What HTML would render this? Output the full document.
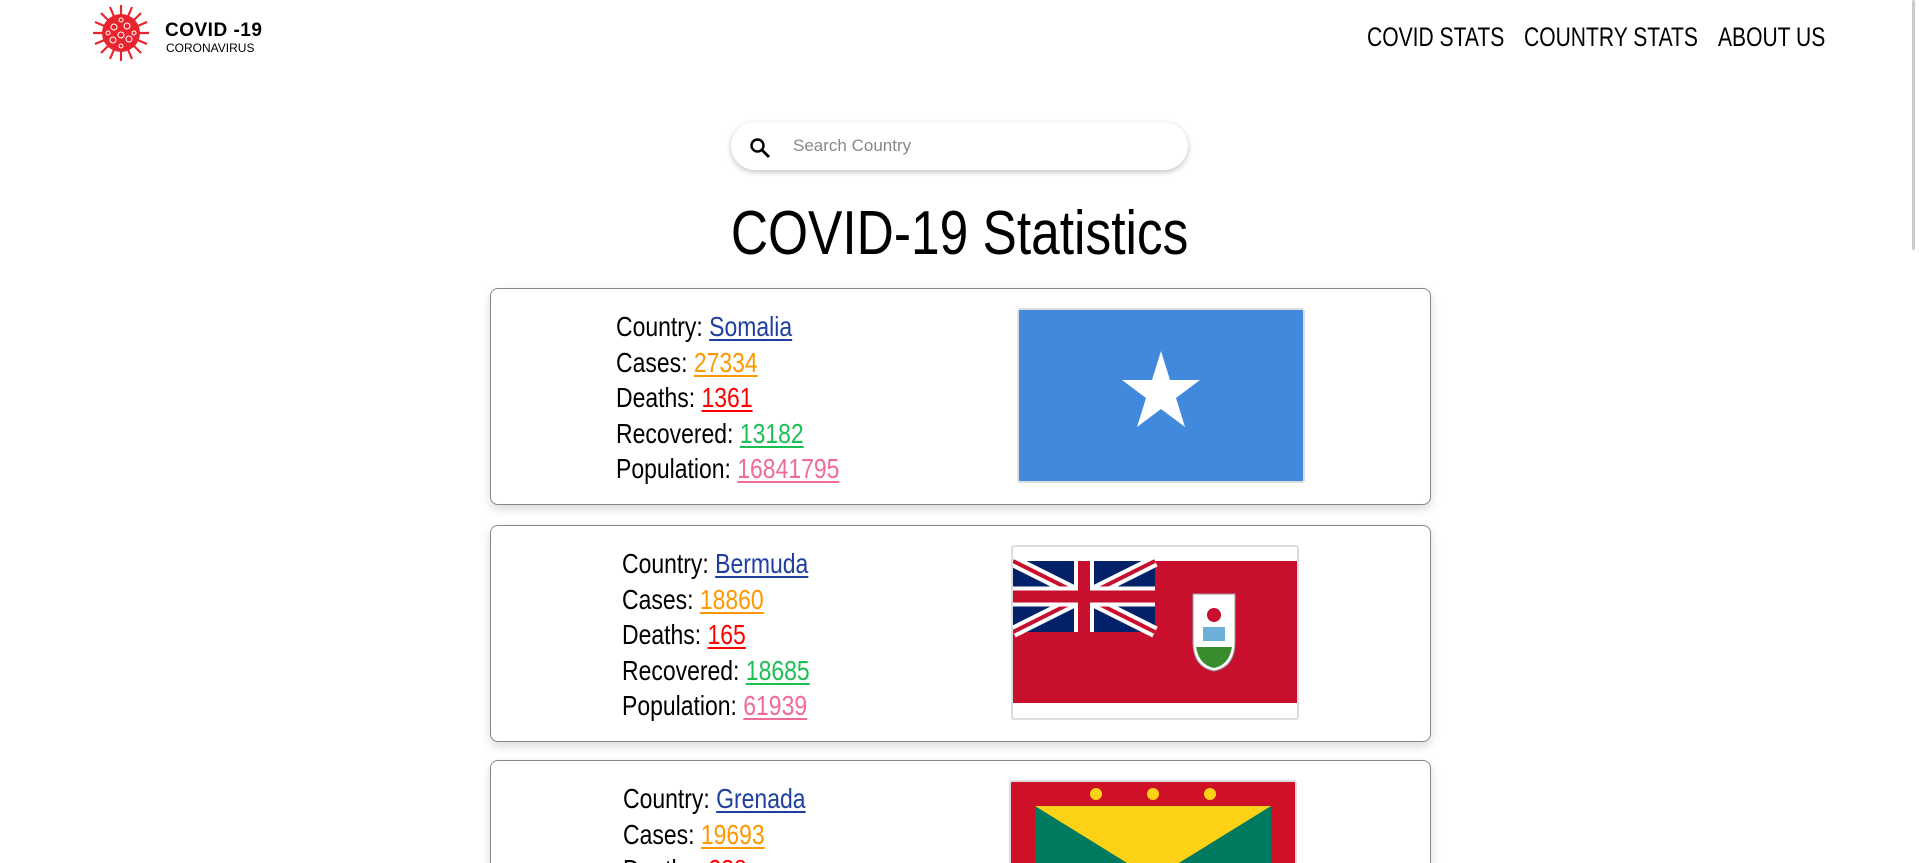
<!DOCTYPE html>
<html style="height:863px;overflow:hidden"><head><meta charset="utf-8"><style>
html,body{margin:0;padding:0}
body{width:1919px;height:863px;overflow:hidden;background:#fff;font-family:"Liberation Sans",sans-serif;position:relative}
#wrap{position:absolute;left:0;top:0;width:1919px;height:863px;overflow:hidden}
.abs{position:absolute}
.nav a{color:#000;text-decoration:none;font-size:27px;position:absolute;top:22px;transform:scaleX(0.78);transform-origin:0 0;white-space:nowrap}
.card{position:absolute;left:490px;width:939px;border:1px solid #888;border-radius:8px;background:#fff;box-shadow:0 4px 10px rgba(0,0,0,.15)}
.info{position:absolute;font-size:28px;line-height:35.5px;color:#000;transform:scaleX(0.82);transform-origin:0 0;white-space:nowrap}
.info a{text-decoration:underline;text-underline-offset:3px}
.flag{position:absolute;width:284px;height:171px;border:2px solid #ddd;border-radius:3px;overflow:hidden}
</style></head><body><div id="wrap">
<div class="abs" style="left:90px;top:2px;width:200px;height:62px">
<svg width="62" height="62" viewBox="-31 -31 62 62">
<g stroke="#e8252e" stroke-width="2.2">
<line x1="0" y1="-28" x2="0" y2="28"/><line x1="-28" y1="0" x2="28" y2="0"/>
<line x1="-20" y1="-20" x2="20" y2="20"/><line x1="-20" y1="20" x2="20" y2="-20"/>
<line x1="-11" y1="-26" x2="11" y2="26"/><line x1="11" y1="-26" x2="-11" y2="26"/>
<line x1="-26" y1="-11" x2="26" y2="11"/><line x1="-26" y1="11" x2="26" y2="-11"/>
</g>
<circle r="19" fill="#e8252e"/>
<g fill="none" stroke="#fff" stroke-width="1"><circle r="3" cx="-7" cy="-6"/><circle r="3" cx="6" cy="-7"/><circle r="3" cx="0" cy="2"/><circle r="3" cx="-8" cy="7"/><circle r="3" cx="8" cy="6"/><circle r="2" cx="0" cy="-13"/><circle r="2" cx="0" cy="13"/><circle r="2" cx="-13" cy="0"/><circle r="2" cx="13" cy="0"/></g>
</svg>
<div class="abs" style="left:75px;top:18px;font-weight:bold;font-size:19px;letter-spacing:0.5px">COVID -19</div>
<div class="abs" style="left:76px;top:39px;font-size:12px">CORONAVIRUS</div>
</div>
<div class="nav">
<a style="left:1367px">COVID STATS</a>
<a style="left:1524px">COUNTRY STATS</a>
<a style="left:1718px">ABOUT US</a>
</div>
<div class="abs" style="left:731px;top:122px;width:457px;height:48px;border-radius:24px;box-shadow:0 2px 6px rgba(0,0,0,.25);background:#fff">
<svg class="abs" style="left:18px;top:15px" width="22" height="22" viewBox="0 0 22 22"><circle cx="8.5" cy="8.5" r="6" fill="none" stroke="#000" stroke-width="2.4"/><line x1="13" y1="13" x2="20" y2="20" stroke="#000" stroke-width="2.8"/></svg>
<div class="abs" style="left:62px;top:14px;font-size:17px;color:#888">Search Country</div>
</div>
<div class="abs" style="left:0;width:1919px;text-align:center;top:199px;font-size:62px;line-height:70px"><span style="display:inline-block;transform:scaleX(0.83)">COVID-19 Statistics</span></div>

<div class="card" style="top:288px;height:215px">
<div class="info" style="left:125px;top:20px">
<div>Country: <a style="color:#1f3fa0">Somalia</a></div>
<div>Cases: <a style="color:#ff9800">27334</a></div>
<div>Deaths: <a style="color:#f00">1361</a></div>
<div>Recovered: <a style="color:#1dbf55">13182</a></div>
<div>Population: <a style="color:#f06a9a">16841795</a></div>
</div>
<div class="flag" style="left:526px;top:19px;background:#4189dd">
<svg width="284" height="171" viewBox="0 0 284 171"><polygon fill="#fff" points="142,41 151,70 181,70 157,88 166,117 142,99 118,117 127,88 103,70 133,70"/></svg></div>
</div>

<div class="card" style="top:525px;height:215px">
<div class="info" style="left:131px;top:20px">
<div>Country: <a style="color:#1f3fa0">Bermuda</a></div>
<div>Cases: <a style="color:#ff9800">18860</a></div>
<div>Deaths: <a style="color:#f00">165</a></div>
<div>Recovered: <a style="color:#1dbf55">18685</a></div>
<div>Population: <a style="color:#f06a9a">61939</a></div>
</div>
<div class="flag" style="left:520px;top:19px;background:#fff">
<svg width="284" height="171" viewBox="0 0 284 171"><rect y="14" width="284" height="142" fill="#c8102e"/>
<rect y="14" width="142" height="71" fill="#012169"/>
<path d="M0,14 L142,85 M142,14 L0,85" stroke="#fff" stroke-width="12"/>
<path d="M0,14 L142,85 M142,14 L0,85" stroke="#c8102e" stroke-width="4"/>
<path d="M71,14 V85 M0,49.5 H142" stroke="#fff" stroke-width="20"/>
<path d="M71,14 V85 M0,49.5 H142" stroke="#c8102e" stroke-width="12"/>
<path d="M180,47 H222 V95 Q222,120 201,124 Q180,120 180,95 Z" fill="#fff" stroke="#999"/>
<path d="M183,100 H219 Q216,118 201,121 Q186,118 183,100Z" fill="#3a8d2f"/>
<circle cx="201" cy="68" r="7" fill="#c8102e"/><rect x="190" y="80" width="22" height="14" fill="#6ab0d8"/></svg></div>
</div>

<div class="card" style="top:760px;height:215px">
<div class="info" style="left:132px;top:20px">
<div>Country: <a style="color:#1f3fa0">Grenada</a></div>
<div>Cases: <a style="color:#ff9800">19693</a></div>
<div>Deaths: <a style="color:#f00">238</a></div>
</div>
<div class="flag" style="left:518px;top:19px;background:#ce1126">
<svg width="284" height="171" viewBox="0 0 284 171"><rect x="24" y="24" width="236" height="147" fill="#fcd116"/>
<polygon points="24,24 142,97 24,171" fill="#007a5e"/><polygon points="260,24 142,97 260,171" fill="#007a5e"/>
<circle cx="142" cy="97" r="14" fill="#ce1126"/>
<g fill="#fcd116"><circle cx="85" cy="12" r="6"/><circle cx="142" cy="12" r="6"/><circle cx="199" cy="12" r="6"/></g></svg></div>
</div>

<div class="abs" style="left:1912px;top:0;width:3px;height:250px;background:#ccc;border-radius:2px"></div>
</div></body></html>
